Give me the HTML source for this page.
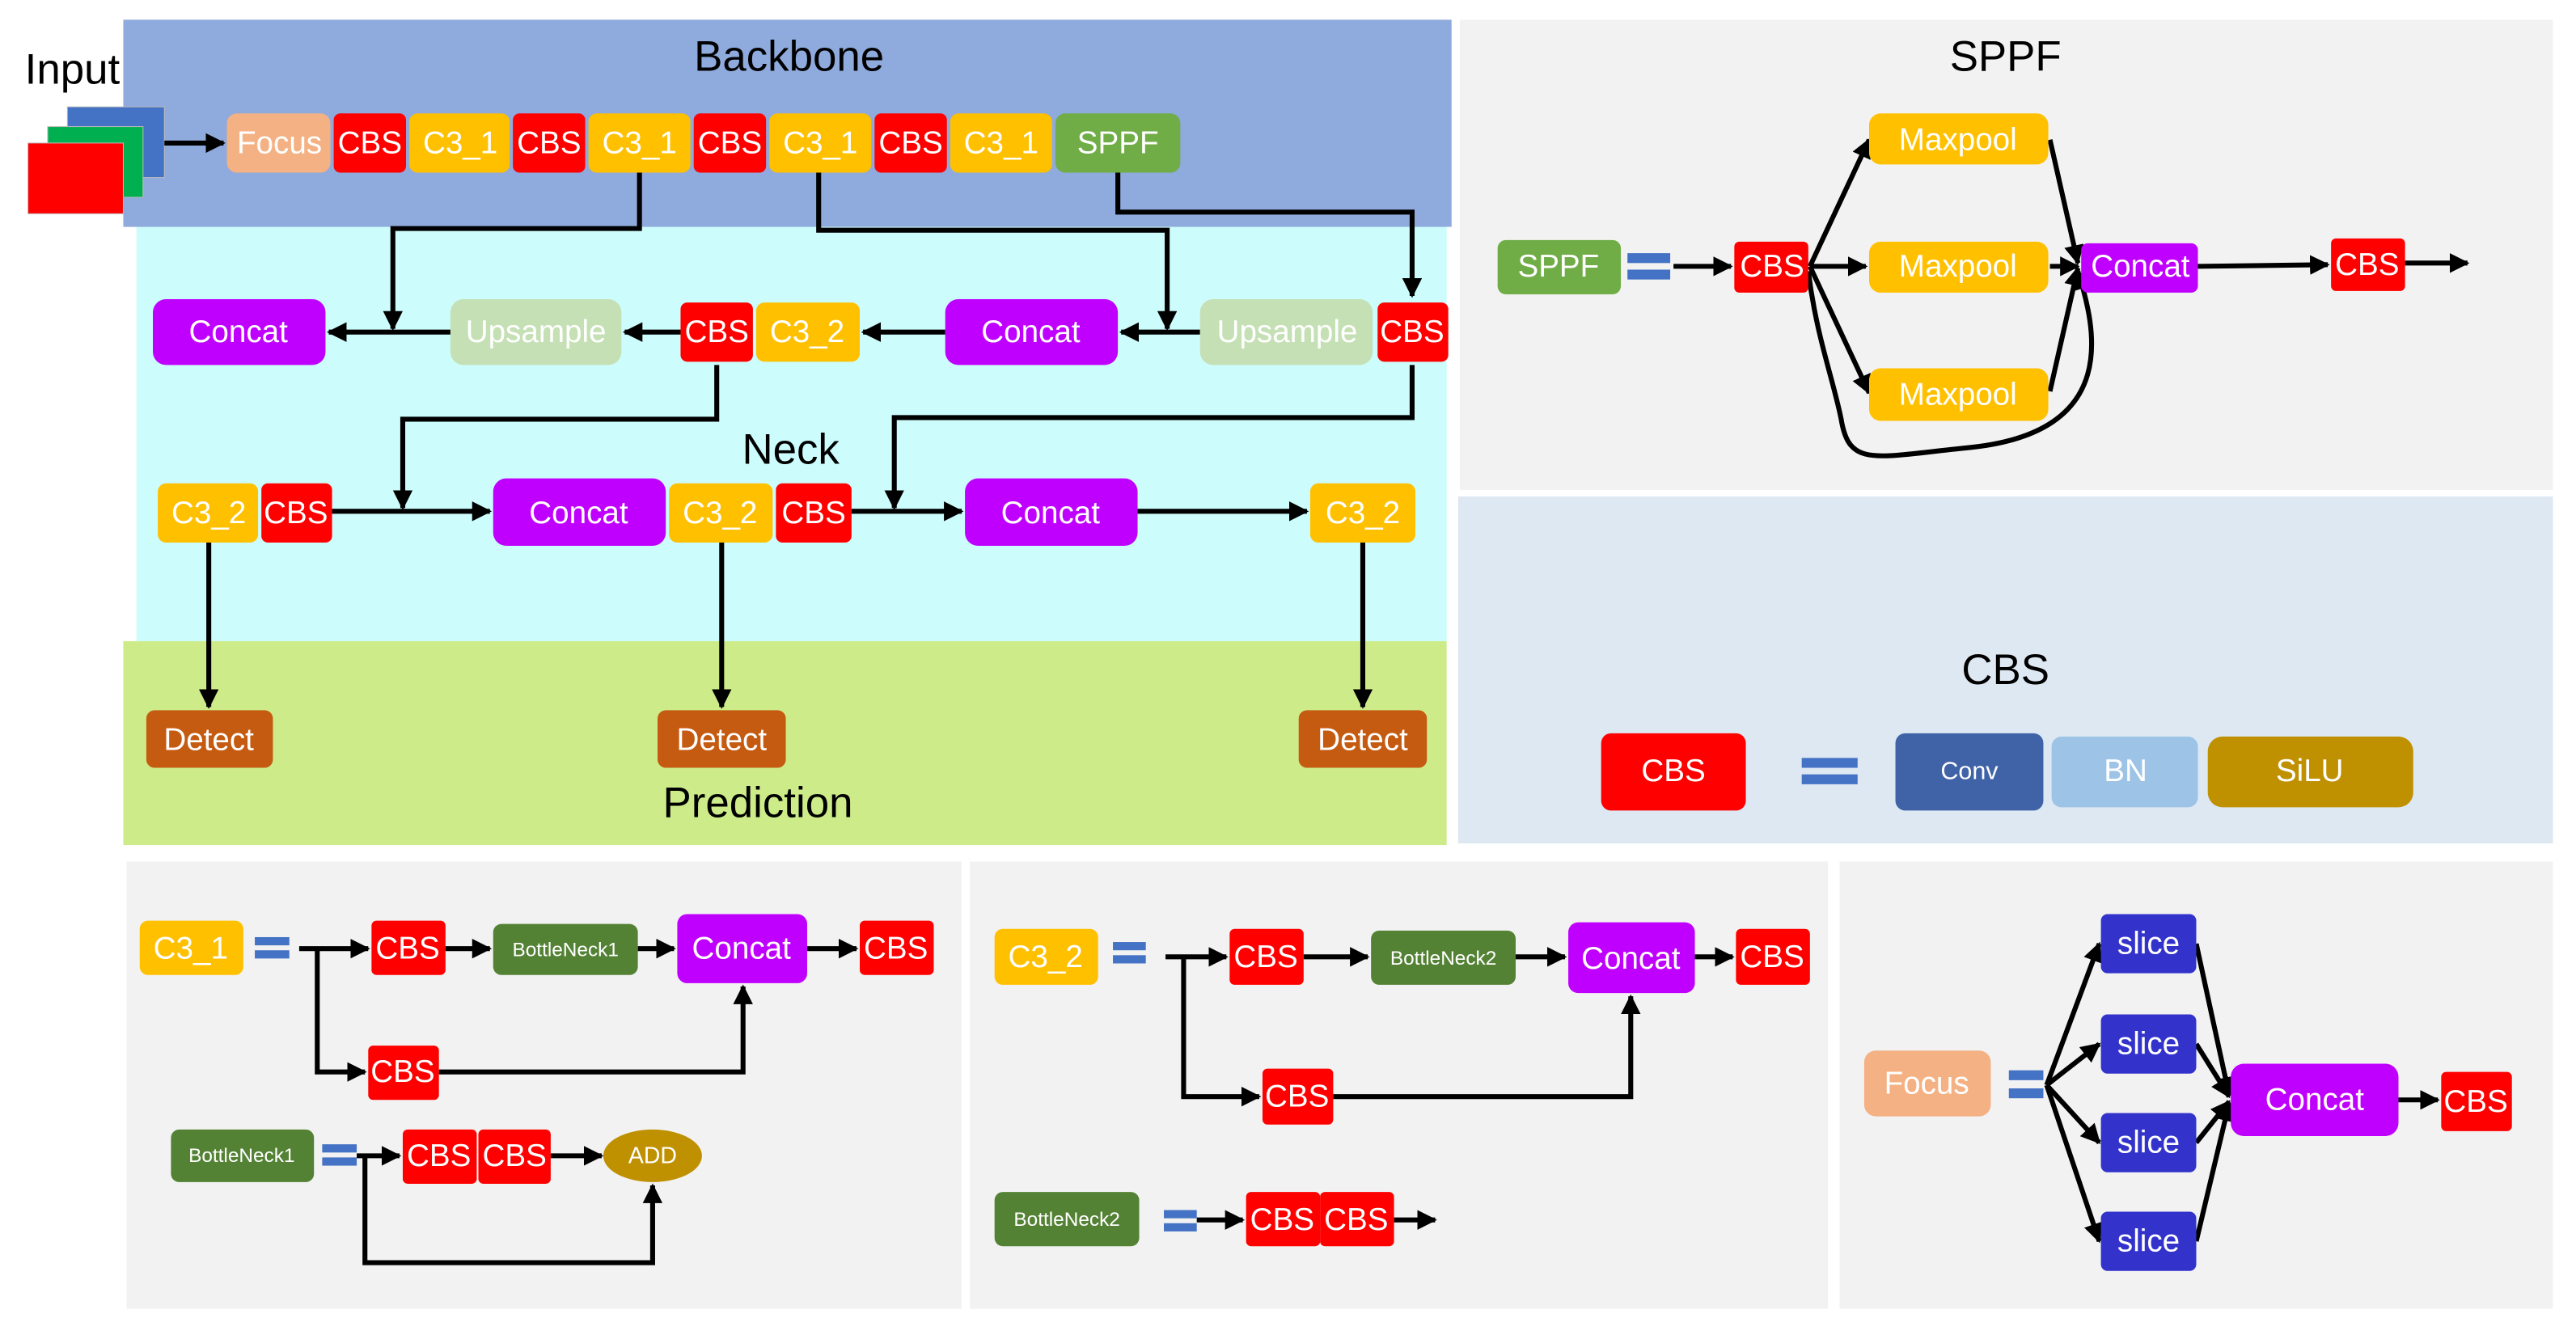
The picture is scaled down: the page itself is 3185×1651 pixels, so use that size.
<!DOCTYPE html>
<html><head><meta charset="utf-8"><style>html,body{margin:0;padding:0;background:#fff}svg{display:block}text{font-family:"Liberation Sans Narrow","Liberation Sans",sans-serif}</style></head>
<body>
<svg width="3185" height="1651" viewBox="0 0 1567 812" preserveAspectRatio="none" xmlns="http://www.w3.org/2000/svg">
<defs>
<marker id="a" viewBox="0 0 10 10" refX="9" refY="5" markerWidth="4" markerHeight="4" orient="auto" markerUnits="strokeWidth"><path d="M0,0 L10,5 L0,10 z" fill="#000"/></marker>
</defs>
<rect x="83" y="138" width="797" height="252" fill="#ccfcfc"/>
<rect x="75" y="12" width="808" height="126" fill="#8faadc"/>
<rect x="75" y="390" width="805" height="124" fill="#cdec89"/>
<rect x="888" y="12" width="665" height="286" fill="#f2f2f2"/>
<rect x="887" y="302" width="666" height="211" fill="#dee8f3"/>
<rect x="77" y="524" width="508" height="272" fill="#f2f2f2"/>
<rect x="590" y="524" width="522" height="272" fill="#f2f2f2"/>
<rect x="1119" y="524" width="434" height="272" fill="#f2f2f2"/>

<g font-size="26" fill="#000" text-anchor="middle">
<text x="44" y="51">Input</text>
<text x="480" y="43">Backbone</text>
<text x="481" y="282">Neck</text>
<text x="461" y="497">Prediction</text>
<text x="1220" y="43">SPPF</text>
<text x="1220" y="416">CBS</text>
</g>

<rect x="41" y="65" width="59" height="43" fill="#4472c4" stroke="#bbb" stroke-width="0.5"/>
<rect x="29" y="77" width="58" height="43" fill="#00b050" stroke="#bbb" stroke-width="0.5"/>
<rect x="17" y="87" width="58" height="43" fill="#ff0000" stroke="#bbb" stroke-width="0.5"/>

<g stroke="#000" stroke-width="3" fill="none" marker-end="url(#a)">
<path d="M100,87 H136"/>
<path d="M389,105 V139 H239 V200"/>
<path d="M274,202 H200"/>
<path d="M498,105 V140 H710 V200"/>
<path d="M730,202 H682"/>
<path d="M680,105 V129 H859 V180"/>
<path d="M414,202 H380"/>
<path d="M575,202 H525"/>
<path d="M436,222 V255 H245 V309"/>
<path d="M859,222 V254 H544 V309"/>
<path d="M202,311 H298"/>
<path d="M518,311 H585"/>
<path d="M692,311 H795"/>
<path d="M127,330 V430"/>
<path d="M439,330 V430"/>
<path d="M829,330 V430"/>
<path d="M1018,162 H1053"/>
<path d="M1101,162 L1137,85"/>
<path d="M1101,162 H1135"/>
<path d="M1101,162 L1137,239"/>
<path d="M1247,85 L1264,160"/>
<path d="M1247,162 H1264"/>
<path d="M1247,238 L1264,163"/>
<path d="M1100,165 C1105,205 1115,230 1120,255 C1125,285 1140,278 1200,272 C1290,262 1275,200 1264,165"/>
<path d="M1337,162 L1416,161"/>
<path d="M1463,160 H1501"/>
<path d="M182,577 H224"/>
<path d="M271,577 H298"/>
<path d="M388,577 H410"/>
<path d="M491,577 H521"/>
<path d="M193,577 V652 H222"/>
<path d="M267,652 H452 V600"/>
<path d="M217,703 H243"/>
<path d="M335,703 H366"/>
<path d="M222,703 V768 H397 V721"/>
<path d="M709,582 H746"/>
<path d="M793,582 H832"/>
<path d="M922,582 H952"/>
<path d="M1031,582 H1054"/>
<path d="M720,582 V667 H766"/>
<path d="M811,667 H992 V606"/>
<path d="M728,742 H756"/>
<path d="M848,742 H873"/>
<path d="M1245,660 L1277,574"/>
<path d="M1245,660 L1277,635"/>
<path d="M1245,660 L1277,695"/>
<path d="M1245,660 L1277,755"/>
<path d="M1336,574 L1356,666"/>
<path d="M1336,635 L1356,667"/>
<path d="M1336,695 L1356,670"/>
<path d="M1336,755 L1356,671"/>
<path d="M1459,669 H1483"/>
</g>

<g font-size="19" fill="#fff" text-anchor="middle" dominant-baseline="central">
<rect x="138" y="69" width="63" height="36" rx="6" fill="#f4b183"/><text x="170" y="87">Focus</text>
<rect x="203" y="69" width="44" height="36" rx="4" fill="#ff0000"/><text x="225" y="87">CBS</text>
<rect x="249" y="69" width="61" height="36" rx="5" fill="#ffc000"/><text x="280" y="87">C3_1</text>
<rect x="312" y="69" width="44" height="36" rx="4" fill="#ff0000"/><text x="334" y="87">CBS</text>
<rect x="358" y="69" width="62" height="36" rx="5" fill="#ffc000"/><text x="389" y="87">C3_1</text>
<rect x="422" y="69" width="44" height="36" rx="4" fill="#ff0000"/><text x="444" y="87">CBS</text>
<rect x="468" y="69" width="62" height="36" rx="5" fill="#ffc000"/><text x="499" y="87">C3_1</text>
<rect x="532" y="69" width="44" height="36" rx="4" fill="#ff0000"/><text x="554" y="87">CBS</text>
<rect x="578" y="69" width="62" height="36" rx="5" fill="#ffc000"/><text x="609" y="87">C3_1</text>
<rect x="642" y="69" width="76" height="36" rx="6" fill="#70ad47"/><text x="680" y="87">SPPF</text>
<rect x="93" y="182" width="105" height="40" rx="8" fill="#c000ff"/><text x="145" y="202">Concat</text>
<rect x="274" y="182" width="104" height="40" rx="8" fill="#c5e0b4"/><text x="326" y="202">Upsample</text>
<rect x="414" y="184" width="44" height="36" rx="4" fill="#ff0000"/><text x="436" y="202">CBS</text>
<rect x="460" y="184" width="63" height="36" rx="5" fill="#ffc000"/><text x="491" y="202">C3_2</text>
<rect x="575" y="182" width="105" height="40" rx="8" fill="#c000ff"/><text x="627" y="202">Concat</text>
<rect x="730" y="182" width="105" height="40" rx="8" fill="#c5e0b4"/><text x="783" y="202">Upsample</text>
<rect x="838" y="184" width="43" height="36" rx="4" fill="#ff0000"/><text x="859" y="202">CBS</text>
<rect x="96" y="294" width="61" height="36" rx="5" fill="#ffc000"/><text x="127" y="312">C3_2</text>
<rect x="159" y="294" width="43" height="36" rx="4" fill="#ff0000"/><text x="180" y="312">CBS</text>
<rect x="300" y="291" width="105" height="41" rx="8" fill="#c000ff"/><text x="352" y="312">Concat</text>
<rect x="407" y="294" width="63" height="36" rx="5" fill="#ffc000"/><text x="438" y="312">C3_2</text>
<rect x="472" y="294" width="46" height="36" rx="4" fill="#ff0000"/><text x="495" y="312">CBS</text>
<rect x="587" y="291" width="105" height="41" rx="8" fill="#c000ff"/><text x="639" y="312">Concat</text>
<rect x="797" y="294" width="64" height="36" rx="5" fill="#ffc000"/><text x="829" y="312">C3_2</text>
<rect x="89" y="432" width="77" height="35" rx="5" fill="#c55a11"/><text x="127" y="450">Detect</text>
<rect x="400" y="432" width="78" height="35" rx="5" fill="#c55a11"/><text x="439" y="450">Detect</text>
<rect x="790" y="432" width="78" height="35" rx="5" fill="#c55a11"/><text x="829" y="450">Detect</text>
<rect x="911" y="146" width="75" height="33" rx="5" fill="#70ad47"/><text x="948" y="162">SPPF</text>
<rect x="1055" y="147" width="45" height="31" rx="3" fill="#ff0000"/><text x="1078" y="162">CBS</text>
<rect x="1137" y="69" width="109" height="31" rx="7" fill="#ffc000"/><text x="1191" y="85">Maxpool</text>
<rect x="1137" y="147" width="109" height="31" rx="7" fill="#ffc000"/><text x="1191" y="162">Maxpool</text>
<rect x="1137" y="224" width="109" height="32" rx="7" fill="#ffc000"/><text x="1191" y="240">Maxpool</text>
<rect x="1266" y="148" width="71" height="30" rx="4" fill="#c000ff"/><text x="1302" y="162">Concat</text>
<rect x="1418" y="145" width="45" height="32" rx="3" fill="#ff0000"/><text x="1440" y="161">CBS</text>
<rect x="974" y="446" width="88" height="47" rx="6" fill="#ff0000"/><text x="1018" y="469">CBS</text>
<rect x="1153" y="446" width="90" height="47" rx="6" fill="#4063a8"/><text x="1198" y="469" font-size="15">Conv</text>
<rect x="1248" y="448" width="89" height="43" rx="6" fill="#9dc3e6"/><text x="1293" y="469">BN</text>
<rect x="1343" y="448" width="125" height="43" rx="9" fill="#bf9000"/><text x="1405" y="469">SiLU</text>
<rect x="85" y="560" width="63" height="33" rx="5" fill="#ffc000"/><text x="116" y="577">C3_1</text>
<rect x="226" y="560" width="45" height="33" rx="3" fill="#ff0000"/><text x="248" y="577">CBS</text>
<rect x="300" y="562" width="88" height="31" rx="5" fill="#548235"/><text x="344" y="578" font-size="12">BottleNeck1</text>
<rect x="412" y="556" width="79" height="42" rx="6" fill="#c000ff"/><text x="451" y="577">Concat</text>
<rect x="523" y="560" width="45" height="33" rx="3" fill="#ff0000"/><text x="545" y="577">CBS</text>
<rect x="224" y="636" width="43" height="33" rx="3" fill="#ff0000"/><text x="245" y="652">CBS</text>
<rect x="104" y="687" width="87" height="32" rx="5" fill="#548235"/><text x="147" y="703" font-size="12">BottleNeck1</text>
<rect x="245" y="687" width="45" height="33" rx="3" fill="#ff0000"/><text x="267" y="703">CBS</text>
<rect x="291" y="687" width="44" height="33" rx="3" fill="#ff0000"/><text x="313" y="703">CBS</text>
<ellipse cx="397" cy="703" rx="30" ry="16" fill="#bf9000"/><text x="397" y="703" font-size="14">ADD</text>
<rect x="605" y="565" width="63" height="34" rx="5" fill="#ffc000"/><text x="636" y="582">C3_2</text>
<rect x="748" y="565" width="45" height="34" rx="3" fill="#ff0000"/><text x="770" y="582">CBS</text>
<rect x="834" y="566" width="88" height="33" rx="5" fill="#548235"/><text x="878" y="583" font-size="12">BottleNeck2</text>
<rect x="954" y="561" width="77" height="43" rx="6" fill="#c000ff"/><text x="992" y="583">Concat</text>
<rect x="1056" y="565" width="45" height="34" rx="3" fill="#ff0000"/><text x="1078" y="582">CBS</text>
<rect x="768" y="650" width="43" height="34" rx="3" fill="#ff0000"/><text x="789" y="667">CBS</text>
<rect x="605" y="725" width="88" height="33" rx="5" fill="#548235"/><text x="649" y="742" font-size="12">BottleNeck2</text>
<rect x="758" y="725" width="45" height="33" rx="3" fill="#ff0000"/><text x="780" y="742">CBS</text>
<rect x="803" y="725" width="45" height="33" rx="3" fill="#ff0000"/><text x="825" y="742">CBS</text>
<rect x="1134" y="639" width="77" height="40" rx="7" fill="#f4b183"/><text x="1172" y="659">Focus</text>
<rect x="1278" y="556" width="58" height="36" rx="4" fill="#3333cc"/><text x="1307" y="574">slice</text>
<rect x="1278" y="617" width="58" height="36" rx="4" fill="#3333cc"/><text x="1307" y="635">slice</text>
<rect x="1278" y="677" width="58" height="36" rx="4" fill="#3333cc"/><text x="1307" y="695">slice</text>
<rect x="1278" y="737" width="58" height="36" rx="4" fill="#3333cc"/><text x="1307" y="755">slice</text>
<rect x="1357" y="647" width="102" height="44" rx="8" fill="#c000ff"/><text x="1408" y="669">Concat</text>
<rect x="1485" y="652" width="43" height="36" rx="3" fill="#ff0000"/><text x="1506" y="670">CBS</text>
</g>

<g fill="#4472c4">
<rect x="990" y="154" width="26" height="6"/><rect x="990" y="164" width="26" height="6"/>
<rect x="1096" y="461" width="34" height="6"/><rect x="1096" y="471" width="34" height="6"/>
<rect x="155" y="570" width="21" height="5"/><rect x="155" y="578" width="21" height="5"/>
<rect x="196" y="696" width="21" height="5"/><rect x="196" y="704" width="21" height="5"/>
<rect x="677" y="573" width="20" height="5"/><rect x="677" y="581" width="20" height="5"/>
<rect x="708" y="736" width="20" height="5"/><rect x="708" y="744" width="20" height="5"/>
<rect x="1222" y="651" width="21" height="6"/><rect x="1222" y="662" width="21" height="6"/>
</g>
</svg>
</body></html>
